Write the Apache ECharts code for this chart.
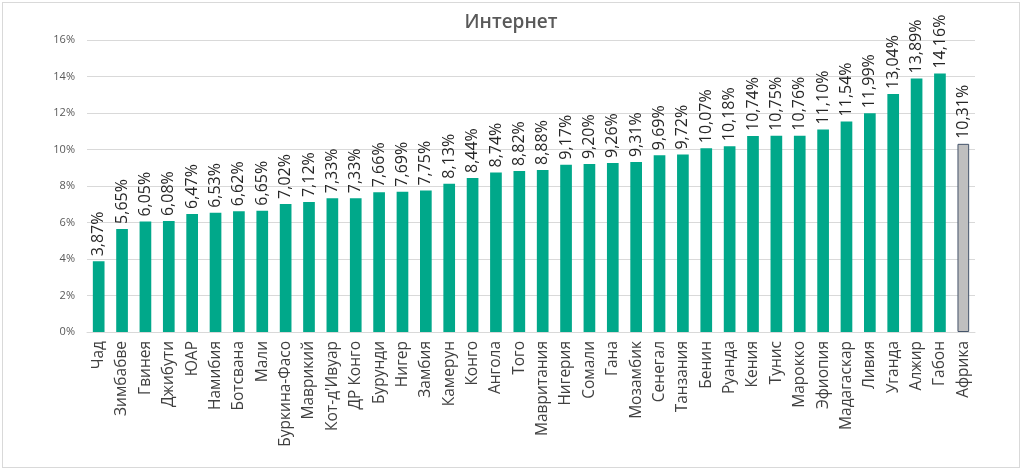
<!DOCTYPE html>
<html><head><meta charset="utf-8">
<script src="https://cdn.jsdelivr.net/npm/echarts@6/dist/echarts.min.js"></script>
<style>
html,body{margin:0;padding:0;background:#fff;}
#c{position:absolute;left:2px;top:2px;width:1018px;height:466px;border:1px solid #d9d9d9;box-sizing:border-box;}
</style></head><body>
<div id="c"></div>
<script>
const categories = ["Чад","Зимбабве","Гвинея","Джибути","ЮАР","Намибия","Ботсвана","Мали","Буркина-Фасо","Маврикий","Кот-д'Ивуар","ДР Конго","Бурунди","Нигер","Замбия","Камерун","Конго","Ангола","Того","Мавритания","Нигерия","Сомали","Гана","Мозамбик","Сенегал","Танзания","Бенин","Руанда","Кения","Тунис","Марокко","Эфиопия","Мадагаскар","Ливия","Уганда","Алжир","Габон","Африка"];
const values = [3.87,5.65,6.05,6.08,6.47,6.53,6.62,6.65,7.02,7.12,7.33,7.33,7.66,7.69,7.75,8.13,8.44,8.74,8.82,8.88,9.17,9.20,9.26,9.31,9.69,9.72,10.07,10.18,10.74,10.75,10.76,11.10,11.54,11.99,13.04,13.89,14.16,10.31];
const highlight = "Африка";
const yTicks = [0,2,4,6,8,10,12,14,16];

const chart = echarts.init(document.getElementById('c'));
const data = values.map((v,i)=> categories[i]===highlight
  ? {value:v,itemStyle:{color:'#bfbfbf',borderColor:'#44546a',borderWidth:1}}
  : {value:v});
chart.setOption({
  animation:false,
  title:{text:'Интернет',left:'center',top:5,textStyle:{fontFamily:'Open Sans',fontSize:19,fontWeight:600,color:'#595959'}},
  grid:{left:84,right:44,top:37,bottom:135,containLabel:false},
  xAxis:{type:'category',data:categories,
    axisLine:{lineStyle:{color:'#d9d9d9'}},axisTick:{show:false},
    axisLabel:{rotate:90,interval:0,fontFamily:'Open Sans',fontSize:15.5,color:'#404040',margin:9}},
  yAxis:{type:'value',min:yTicks[0],max:yTicks[yTicks.length-1],interval:2,
    axisLabel:{formatter:v=>v+'%',fontFamily:'Open Sans',fontSize:11,color:'#595959',margin:12},
    splitLine:{lineStyle:{color:'#d9d9d9'}},axisLine:{show:false},axisTick:{show:false}},
  series:[{type:'bar',data:data,barWidth:'50%',itemStyle:{color:'#00a88a'},
    label:{show:true,position:'top',rotate:90,align:'left',verticalAlign:'middle',distance:5,
      fontFamily:'Open Sans',fontSize:16,color:'#262626',
      formatter:p=>p.value.toFixed(2).replace('.',',')+'%'}}]
});
</script></body></html>
